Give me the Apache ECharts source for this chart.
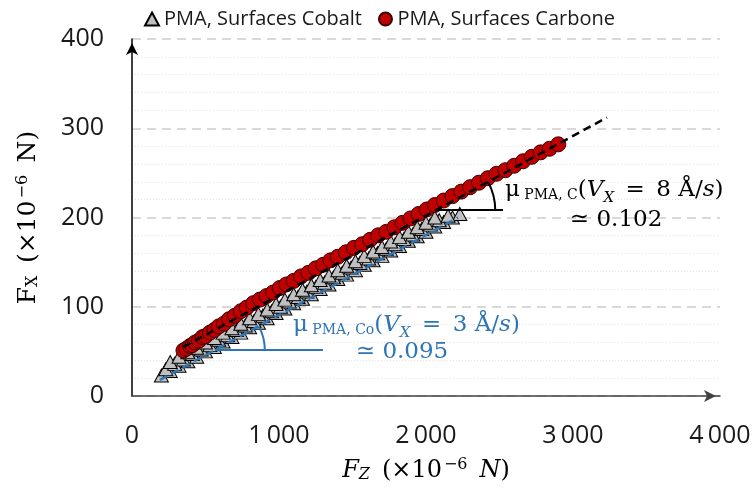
<!DOCTYPE html>
<html><head><meta charset="utf-8">
<script src="https://cdn.jsdelivr.net/npm/echarts@6/dist/echarts.min.js"></script>
<style>html,body{margin:0;padding:0;background:#fff}#c{width:755px;height:488px}</style>
</head><body><div id="c"></div>
<script>
// ---- data ----
const xTicks = [0, 1000, 2000, 3000, 4000];
const yTicks = [0, 100, 200, 300, 400];
const seriesNames = ['PMA, Surfaces Cobalt', 'PMA, Surfaces Carbone'];

const cobaltFz = [
  200,260,320,380,440,500,560,620,680,740,800,860,920,980,1040,1100,1160,1220,1280,1340,1400,1460,1520,1580,1640,1700,1760,1820,1880,1940,2000,2060,2120,2180,2230,
  230,290,350,410,470,530,590,650,710,770,830,890,950,1010,1070,1130,1190,1250,1310,1370,1430,1490,1550,1610,1670,1730,1790,1850,1910,1970,2030,2090,2150,
  260,320,380,440,500,560,620,680,740,800,860,920,980,1040,1100,1160,1220,1280,1340,1400,1460,1520,1580,1640,1700,1760,1820,1880,1940,2000,2060
];
const cobaltFx = [
  23,28,34,39,44,50,55,61,66,71,77,82,87,93,98,104,109,114,120,125,131,136,141,147,152,157,163,168,174,179,184,190,195,200,204,
  30,36,41,47,52,57,63,68,74,79,84,90,95,100,106,111,117,122,127,133,138,144,149,154,160,165,170,176,181,187,192,197,202,
  38,44,49,54,60,65,71,76,81,87,92,97,103,108,114,119,124,130,135,141,146,151,157,162,167,173,178,184,189,194,200
];
const carboneFz = [350,370,395,410,430,455,480,500,530,560,590,625,660,700,740,780,825,870,915,960,1005,1050,1100,1150,1200,1250,1300,1350,1400,1455,1510,1565,1620,1675,1730,1785,1840,1895,1950,2005,2060,2120,2180,2240,2300,2360,2420,2480,2540,2600,2660,2720,2780,2840,2900];
const carboneFx = [51,53,56,57,60,62,66,67,71,74,78,81,86,90,95,99,104,108,112,116,121,125,129,134,138,143,147,152,156,161,166,170,175,180,184,189,194,199,204,209,214,219,224,229,234,239,244,249,253,258,263,268,273,277,282];

// trend lines (end points)
const fitCoFz = [190, 2218];
const fitCoFx = [18, 200];
const fitCFz = [350, 3231];
const fitCFx = [55, 312];

// angle annotations: horizontal level (Fx) and end of horizontal leg (Fz)
const angleCoLevel = 51.5, angleCoEnd = 1299;
const angleCLevel = 208.4, angleCEnd = 2524;
// annotation text anchors [Fz, Fx]
const txtCo1 = [1095, 79.5], txtCo2 = [1837, 49.3];
const txtC1 = [2537, 230.8], txtC2 = [3293, 197];

const BLUE = '#2e75b6';
const zip = (a, b) => a.map((v, i) => [v, b[i]]);
const chart = echarts.init(document.getElementById('c'), null, {renderer: 'canvas'});
const fmtThousands = v => String(v).replace(/\B(?=(\d{3})+(?!\d))/g, '\u2009');
const SERIF = "'DejaVu Serif', serif";
const SANS = "'Open Sans', sans-serif";
const EN = '\u2002';

chart.setOption({
  animation: false,
  backgroundColor: '#fff',
  grid: {left: 132, right: 35, top: 39, bottom: 92, outerBoundsMode: 'none', containLabel: false},
  legend: {
    top: 4, left: 139, itemGap: 16, itemWidth: 14, itemHeight: 13,
    textStyle: {fontFamily: SANS, fontSize: 20, color: '#1a1a1a'},
    data: [{name: seriesNames[0], icon: 'triangle'}, {name: seriesNames[1], icon: 'circle'}]
  },
  xAxis: {
    type: 'value', min: xTicks[0], max: xTicks[xTicks.length - 1], interval: xTicks[1] - xTicks[0],
    axisLine: {show: true, symbol: ['none', 'arrow'], symbolSize: [9, 12], symbolOffset: [0, -4], lineStyle: {color: '#404040', width: 1.5}},
    axisTick: {show: false},
    splitLine: {show: false},
    axisLabel: {margin: 27, fontFamily: SANS, fontSize: 25, color: '#1a1a1a', formatter: fmtThousands},
    name: '{it|F}{itsub|Z}{n|' + EN + '(×10}{sup|−6}{it|' + EN + 'N}{n|)}',
    nameLocation: 'middle', nameGap: 61,
    nameTextStyle: {rich: {
      it: {fontFamily: SERIF, fontStyle: 'italic', fontSize: 24, color: '#000'},
      itsub: {fontFamily: SERIF, fontStyle: 'italic', fontSize: 16, color: '#000', padding: [9, 0, 0, 0]},
      n: {fontFamily: SERIF, fontSize: 24, color: '#000'},
      sup: {fontFamily: SERIF, fontSize: 16, color: '#000', padding: [0, 0, 11, 2]}
    }}
  },
  yAxis: {
    type: 'value', min: yTicks[0], max: yTicks[yTicks.length - 1], interval: yTicks[1] - yTicks[0],
    axisLine: {show: true, symbol: ['none', 'arrow'], symbolSize: [9, 12], symbolOffset: [0, -4], lineStyle: {color: '#000', width: 1.5}},
    axisTick: {show: false},
    splitLine: {show: true, lineStyle: {color: '#d9d9d9', width: 2, type: [9, 6]}},
    minorTick: {show: false, splitNumber: 5},
    minorSplitLine: {show: true, lineStyle: {color: '#e3e3e3', width: 1.2, type: [1, 2]}},
    axisLabel: {margin: 28, fontFamily: SANS, fontSize: 25, color: '#1a1a1a'},
    name: '{n|F}{sub|X}{n|' + EN + '(×10}{sup|−6}{n|' + EN + 'N)}',
    nameLocation: 'middle', nameGap: 90, nameRotate: 90,
    nameTextStyle: {rich: {
      n: {fontFamily: SERIF, fontSize: 25, color: '#000'},
      sub: {fontFamily: SERIF, fontSize: 16, color: '#000', padding: [9, 0, 0, 0]},
      sup: {fontFamily: SERIF, fontSize: 16, color: '#000', padding: [0, 0, 11, 2]}
    }}
  },
  series: [
    {
      name: seriesNames[0], type: 'scatter', z: 2,
      symbol: 'triangle', symbolSize: [14, 13],
      itemStyle: {color: '#c0c0c0', borderColor: '#000', borderWidth: 1, opacity: 1},
      data: zip(cobaltFz, cobaltFx)
    },
    {
      name: seriesNames[1], type: 'scatter', z: 3,
      symbol: 'circle', symbolSize: 15,
      itemStyle: {color: '#c00000', borderColor: '#3a0000', borderWidth: 1, opacity: 1},
      data: zip(carboneFz, carboneFx)
    },
    {
      name: 'fitCo', type: 'line', z: 4, symbol: 'none', silent: true,
      lineStyle: {color: BLUE, width: 2.5, type: [8, 5]},
      data: zip(fitCoFz, fitCoFx)
    },
    {
      name: 'fitC', type: 'line', z: 4, symbol: 'none', silent: true,
      lineStyle: {color: '#000', width: 2.5, type: [8, 5]},
      data: zip(fitCFz, fitCFx)
    }
  ]
});

// ---- angle annotations, placed through the axes ----
const toPx = p => chart.convertToPixel({gridIndex: 0}, p);
function angleMark(fz, fx, level, endFz, radius, color) {
  const pivotFz = fz[0] + (level - fx[0]) * (fz[1] - fz[0]) / (fx[1] - fx[0]);
  const p = toPx([pivotFz, level]);
  const e = toPx([endFz, level]);
  const a = toPx([fz[0], fx[0]]), b = toPx([fz[1], fx[1]]);
  const theta = Math.atan2(a[1] - b[1], b[0] - a[0]);
  return [
    {type: 'line', z: 10, shape: {x1: p[0], y1: p[1], x2: e[0], y2: e[1]}, style: {stroke: color, lineWidth: 2}},
    {type: 'arc', z: 10, shape: {cx: p[0], cy: p[1], r: radius, startAngle: -theta, endAngle: 0, clockwise: true},
     style: {stroke: color, fill: null, lineWidth: 2}}
  ];
}
function richText(anchor, text, color, align) {
  const p = toPx(anchor);
  return {
    type: 'text', z: 10, x: p[0], y: p[1],
    style: {
      text: text, align: align, verticalAlign: 'middle', fill: color,
      font: "23px 'DejaVu Serif'",
      rich: {
        n: {fontFamily: SERIF, fontSize: 23, fill: color, verticalAlign: 'bottom'},
        s: {fontFamily: SERIF, fontSize: 14, fill: color, verticalAlign: 'bottom', padding: [0, 0, -1, 0]},
        it: {fontFamily: SERIF, fontStyle: 'italic', fontSize: 23, fill: color, verticalAlign: 'bottom'},
        itsub: {fontFamily: SERIF, fontStyle: 'italic', fontSize: 15, fill: color, verticalAlign: 'bottom', padding: [0, 0, -4, 0]}
      }
    }
  };
}
const graphics = []
  .concat(angleMark(fitCoFz, fitCoFx, angleCoLevel, angleCoEnd, 50, BLUE))
  .concat(angleMark(fitCFz, fitCFx, angleCLevel, angleCEnd, 59, '#000'))
  .concat([
    richText(txtCo1, '{n|μ}{s| PMA, Co}{n|(}{it|V}{itsub|X}{n|' + EN + '=' + EN + '3 Å/}{it|s}{n|)}', BLUE, 'left'),
    richText(txtCo2, '{n|≃ 0.095}', BLUE, 'center'),
    richText(txtC1, '{n|μ}{s| PMA, C}{n|(}{it|V}{itsub|X}{n|' + EN + '=' + EN + '8 Å/}{it|s}{n|)}', '#000', 'left'),
    richText(txtC2, '{n|≃ 0.102}', '#000', 'center')
  ]);
chart.setOption({graphic: graphics});
</script></body></html>
